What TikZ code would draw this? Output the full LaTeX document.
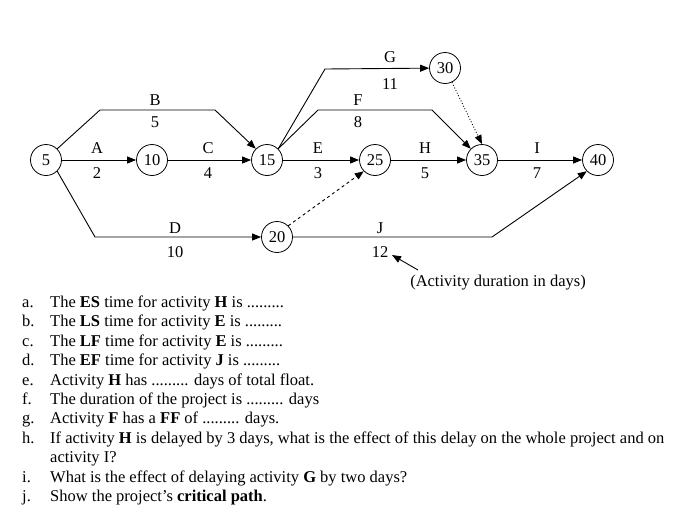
\documentclass[tikz,border=0pt]{standalone}
\usepackage{fontspec}
\setmainfont{Liberation Serif}
\usetikzlibrary{arrows.meta}
\newcommand\dotsfill{.........}
\begin{document}
\begin{tikzpicture}[x=1pt,y=-1pt,font=\fontsize{16.5}{19}\selectfont,
  ev/.style={draw,circle,minimum size=31pt,inner sep=0pt,line width=0.8pt},
  act/.style={line width=0.9pt,-{Triangle[length=9pt,width=7pt]}},
  lab/.style={inner sep=0pt},
  q/.style={anchor=base west,inner sep=0pt}]
\useasboundingbox (0,0) rectangle (700,520);
\node[ev] (n5) at (46,160) {5};
\node[ev] (n10) at (152,160) {10};
\node[ev] (n15) at (267,160) {15};
\node[ev] (n25) at (375,160) {25};
\node[ev] (n35) at (482,160) {35};
\node[ev] (n40) at (598,160) {40};
\node[ev] (n30) at (445,68) {30};
\node[ev] (n20) at (277,237) {20};
\draw[act] (n5) -- (n10);
\draw[act] (n10) -- (n15);
\draw[act] (n15) -- (n25);
\draw[act] (n25) -- (n35);
\draw[act] (n35) -- (n40);
\draw[act] (n5.north east) -- (100,110) -- (215,110) -- (n15.north west);
\draw[act] (n15.north east) -- (325,69) -- (n30);
\draw[act] (n15.north east) -- (318,110) -- (432,110) -- (n35.north west);
\draw[act,dotted] (n30) -- (n35.north);
\draw[act,dashed] (n20.north east) -- (n25.south west);
\draw[act] (n5.south east) -- (95,237) -- (n20);
\draw[act] (n20.east) -- (492,237) -- (n40.south west);
\node[lab] at (97,148) {A}; \node[lab] at (97,173) {2};
\node[lab] at (155,100) {B}; \node[lab] at (155,122) {5};
\node[lab] at (208,148) {C}; \node[lab] at (208,173) {4};
\node[lab] at (318,148) {E}; \node[lab] at (318,173) {3};
\node[lab] at (390,57) {G}; \node[lab] at (390,84) {11};
\node[lab] at (358,100) {F}; \node[lab] at (358,122) {8};
\node[lab] at (425,148) {H}; \node[lab] at (425,173) {5};
\node[lab] at (537,148) {I}; \node[lab] at (537,173) {7};
\node[lab] at (175,228) {D}; \node[lab] at (175,252) {10};
\node[lab] at (380,228) {J}; \node[lab] at (380,252) {12};
\node[lab] (note) at (498,283) {(Activity duration in days)};
\coordinate (tip) at (392,255);
\draw[act] (418,270) -- (tip);
\node[q] at (22,307) {a.}; \node[q] at (50,307) {The \textbf{ES} time for activity \textbf{H} is \dotsfill};
\node[q] at (22,326) {b.}; \node[q] at (50,326) {The \textbf{LS} time for activity \textbf{E} is \dotsfill};
\node[q] at (22,346) {c.}; \node[q] at (50,346) {The \textbf{LF} time for activity \textbf{E} is \dotsfill};
\node[q] at (22,365) {d.}; \node[q] at (50,365) {The \textbf{EF} time for activity \textbf{J} is \dotsfill};
\node[q] at (22,385) {e.}; \node[q] at (50,385) {Activity \textbf{H} has \dotsfill{} days of total float.};
\node[q] at (22,404) {f.}; \node[q] at (50,404) {The duration of the project is \dotsfill{} days};
\node[q] at (22,423) {g.}; \node[q] at (50,423) {Activity \textbf{F} has a \textbf{FF} of \dotsfill{} days.};
\node[q] at (22,443) {h.}; \node[q] at (50,443) {If activity \textbf{H} is delayed by 3 days, what is the effect of this delay on the whole project and on};
\node[q] at (50,462) {activity I?};
\node[q] at (22,482) {i.}; \node[q] at (50,482) {What is the effect of delaying activity \textbf{G} by two days?};
\node[q] at (22,501) {j.}; \node[q] at (50,501) {Show the project’s \textbf{critical path}.};
\end{tikzpicture}
\end{document}
